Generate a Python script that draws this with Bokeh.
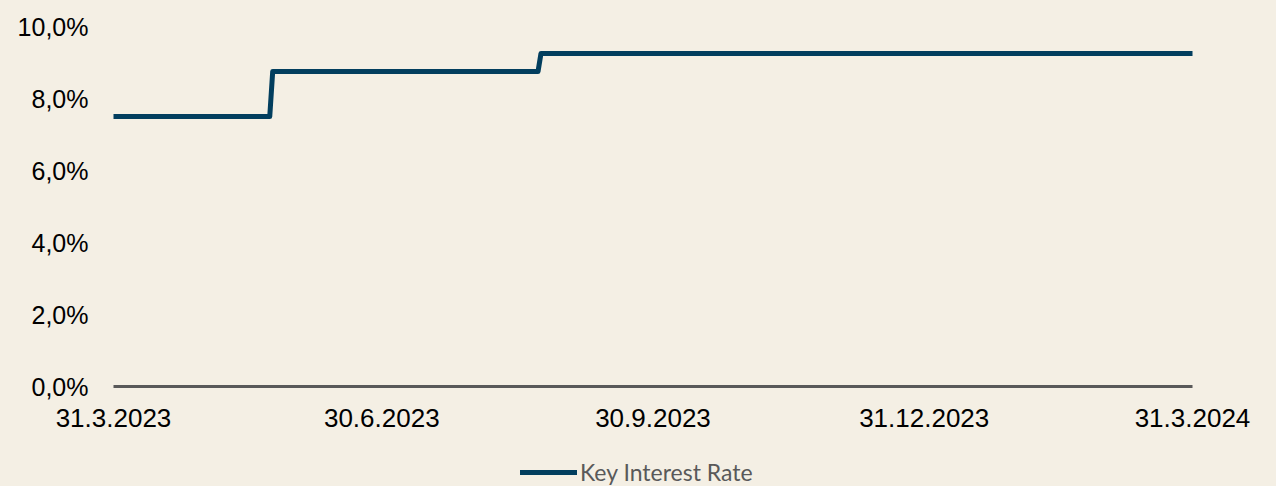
import pandas as pd
from bokeh.plotting import figure
from bokeh.layouts import column
from bokeh.models import Range1d, FixedTicker, CustomJSTickFormatter, Legend, LegendItem
from bokeh.embed import file_html
from bokeh.resources import INLINE

# ---- data ----
dates = ["2023-03-31", "2023-05-23", "2023-05-24", "2023-08-22", "2023-08-23", "2024-03-31"]
rates = [7.5, 7.5, 8.75, 8.75, 9.25, 9.25]
series_name = "Key Interest Rate"

x_tick_dates = ["2023-03-31", "2023-06-30", "2023-09-30", "2023-12-31", "2024-03-31"]
x_tick_labels = ["31.3.2023", "30.6.2023", "30.9.2023", "31.12.2023", "31.3.2024"]
y_ticks = [0, 2, 4, 6, 8, 10]
y_tick_labels = ["0,0%", "2,0%", "4,0%", "6,0%", "8,0%", "10,0%"]

BG = "#F4EFE4"
NAVY = "#023E5E"
GREY = "#595959"

x = pd.to_datetime(dates)
x_tick_ms = [float(pd.Timestamp(d).value // 10**6) for d in x_tick_dates]

p = figure(width=1276, height=440, output_backend="svg", toolbar_location=None,
           x_axis_type="datetime",
           x_range=Range1d(pd.Timestamp(x_tick_dates[0]), pd.Timestamp(x_tick_dates[-1])),
           y_range=Range1d(0, 10),
           min_border_left=113, min_border_right=84, min_border_top=26, min_border_bottom=54)

p.background_fill_color = BG
p.border_fill_color = BG
p.outline_line_color = None
p.xgrid.visible = False
p.ygrid.visible = False

r = p.line(x, rates, line_color=NAVY, line_width=5, line_join="round", line_cap="round")

JS = "const i = tvals.indexOf(tick); return i >= 0 ? tlabels[i] : '';"

# x axis
xa = p.xaxis[0]
xa.ticker = FixedTicker(ticks=x_tick_ms)
xa.formatter = CustomJSTickFormatter(args=dict(tvals=x_tick_ms, tlabels=x_tick_labels), code=JS)
xa.axis_line_color = GREY
xa.axis_line_width = 3
xa.major_tick_line_color = None
xa.minor_tick_line_color = None
xa.major_tick_out = 0
xa.major_tick_in = 0
xa.major_label_standoff = 22
xa.major_label_text_font = "Liberation Sans"
xa.major_label_text_font_size = "26px"
xa.major_label_text_color = "#000000"

# y axis
ya = p.yaxis[0]
ya.ticker = FixedTicker(ticks=y_ticks)
ya.formatter = CustomJSTickFormatter(args=dict(tvals=y_ticks, tlabels=y_tick_labels), code=JS)
ya.axis_line_color = None
ya.major_tick_line_color = None
ya.minor_tick_line_color = None
ya.major_tick_out = 0
ya.major_tick_in = 0
ya.major_label_standoff = 25
ya.major_label_text_font = "Liberation Sans"
ya.major_label_text_font_size = "25px"
ya.major_label_text_color = "#000000"

# legend strip (separate small figure so the legend is not clipped by the main frame)
lg = figure(width=1276, height=46, output_backend="svg", toolbar_location=None,
            x_range=Range1d(0, 1), y_range=Range1d(0, 1),
            x_axis_location=None, y_axis_location=None,
            min_border=0)
lg.background_fill_color = BG
lg.border_fill_color = BG
lg.outline_line_color = None
lg.xgrid.visible = False
lg.ygrid.visible = False
# same series; lies outside this strip's ranges, only its legend key is seen
r_key = lg.line(x, rates, line_color=NAVY, line_width=5, line_cap="round")

legend = Legend(items=[LegendItem(label=series_name, renderers=[r_key])],
                location=(407, 0), orientation="horizontal",
                glyph_width=57, glyph_height=20, label_standoff=3,
                label_text_font="Lato", label_text_font_size="23px",
                label_text_color=GREY, background_fill_alpha=0,
                border_line_color=None, margin=0, padding=0, spacing=0)
lg.add_layout(legend, "center")

layout = column(p, lg, spacing=0)

html = file_html(layout, INLINE, title="Key Interest Rate")
html = html.replace("<body>", '<body style="background-color:%s;">' % BG)
open("out.html", "w").write(html)
